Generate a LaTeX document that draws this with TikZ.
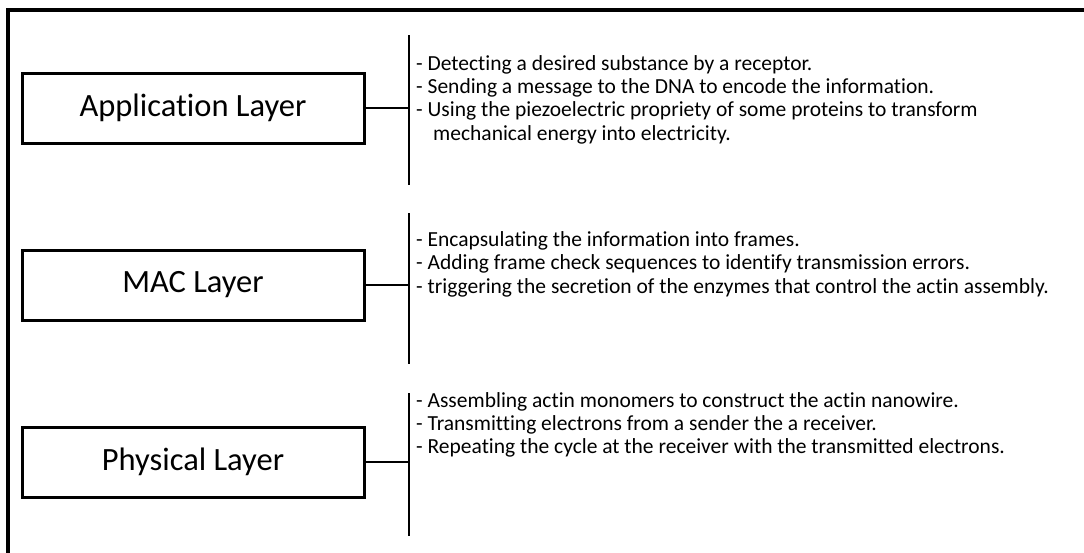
\documentclass[tikz,border=0pt]{standalone}
\usepackage{fontspec}
\setmainfont{Carlito}[Ligatures={NoCommon,NoRare}]
\begin{document}
\begin{tikzpicture}[x=1pt,y=-1pt,
  layerbox/.style={draw=black,line width=3pt,minimum width=342pt,minimum height=70pt,inner sep=0pt,font=\fontsize{32.5}{38}\selectfont},
  bullet/.style={anchor=base west,inner sep=0pt,font=\fontsize{21.5}{24}\selectfont},
  conn/.style={line width=1.6pt}]
\useasboundingbox (0,0) rectangle (1084,552);
% outer frame (only top and left edges are within the picture)
\draw[line width=3.5pt] (1090,10) -- (8,10) -- (8,560);
% layer boxes
\node[layerbox] (app) at (193,108) {Application Layer};
\node[layerbox] (mac) at (193,285) {MAC Layer};
\node[layerbox] (phy) at (193,462) {Physical Layer};
% vertical bars
\coordinate (a1) at (409,35);  \coordinate (a2) at (409,185);
\coordinate (m1) at (409,213); \coordinate (m2) at (409,364);
\coordinate (p1) at (409,393); \coordinate (p2) at (409,536);
\draw[conn] (a1) -- (a2);
\draw[conn] (m1) -- (m2);
\draw[conn] (p1) -- (p2);
\draw[conn] (app.east) -- (app.east -| a1);
\draw[conn] (mac.east) -- (mac.east -| m1);
\draw[conn] (phy.east) -- (phy.east -| p1);
% texts
\node[bullet] (t1) at (416,70) {- Detecting a desired substance by a receptor.};
\node[bullet] (t2) at (416,93.3) {- Sending a message to the DNA to encode the information.};
\node[bullet] (t3) at (416,116.7) {- Using the piezoelectric propriety of some proteins to transform};
\node[bullet] (t4) at (433,140) {mechanical energy into electricity.};
\node[bullet] (u1) at (416,246) {- Encapsulating the information into frames.};
\node[bullet] (u2) at (416,269.5) {- Adding frame check sequences to identify transmission errors.};
\node[bullet] (u3) at (416,293) {- triggering the secretion of the enzymes that control the actin assembly.};
\node[bullet] (v1) at (416,407) {- Assembling actin monomers to construct the actin nanowire.};
\node[bullet] (v2) at (416,430) {- Transmitting electrons from a sender the a receiver.};
\node[bullet] (v3) at (416,453) {- Repeating the cycle at the receiver with the transmitted electrons.};
\end{tikzpicture}
\end{document}
